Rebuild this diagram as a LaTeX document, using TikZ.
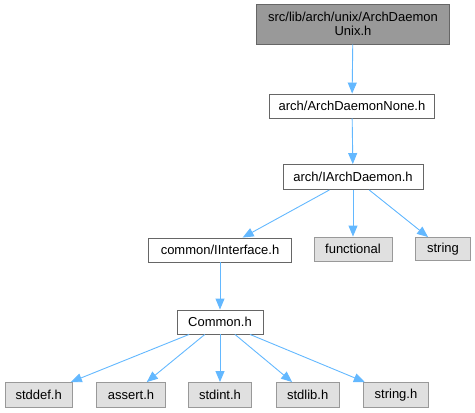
\documentclass[tikz,border=0pt]{standalone}
\usepackage{fontspec}
\setmainfont{Liberation Sans}
\usepackage{xcolor}
\usepackage{tikz}
\usetikzlibrary{arrows.meta, positioning}
\definecolor{rootfill}{HTML}{999999}
\definecolor{rootline}{HTML}{666666}
\definecolor{extfill}{HTML}{E0E0E0}
\definecolor{extline}{HTML}{999999}
\definecolor{incarrow}{HTML}{63B8FF}

\begin{document}
\begin{tikzpicture}[x=1pt, y=-1pt,
    every node/.style={font=\fontsize{13}{14}\selectfont, inner sep=0pt, minimum height=24pt},
    hdr/.style={draw=rootline, line width=0.9pt, fill=white},
    ext/.style={draw=extline, line width=0.9pt, fill=extfill},
    inc/.style={draw=incarrow, line width=0.9pt, -{Triangle[length=11pt, width=9pt]}}]
    \useasboundingbox (0,0) rectangle (475,413);

    % header files of the project
    \node[draw=rootline, line width=0.9pt, fill=rootfill, minimum width=193pt, minimum height=40pt, align=center] (unix) at (353,24) {src/lib/arch/unix/ArchDaemon\\Unix.h};
    \node[hdr, minimum width=165pt] (none) at (352,106) {arch/ArchDaemonNone.h};
    \node[hdr, minimum width=140pt, minimum height=25pt] (iarch) at (353,177) {arch/IArchDaemon.h};
    \node[hdr, minimum width=143pt] (iface) at (220,250) {common/IInterface.h};
    \node[hdr, minimum width=86pt] (common) at (220,322) {Common.h};

    % system headers
    \node[ext, minimum width=78pt] (functional) at (353,249) {functional};
    \node[ext, minimum width=55pt, minimum height=23pt] (string) at (443,249) {string};
    \node[ext, minimum width=67pt, minimum height=25pt] (stddef) at (38.7,395) {stddef.h};
    \node[ext, minimum width=69pt, minimum height=25pt] (assert) at (131,395) {assert.h};
    \node[ext, minimum width=63pt, minimum height=25pt] (stdint) at (220,395) {stdint.h};
    \node[ext, minimum width=63pt, minimum height=25pt] (stdlib) at (307.7,395) {stdlib.h};
    \node[ext, minimum width=65pt, minimum height=25pt] (stringh) at (396,395) {string.h};

    % includes
    \draw[inc] (unix) -- (none);
    \draw[inc] (none) -- (iarch);
    \draw[inc] (iarch) -- (iface);
    \draw[inc] (iarch) -- (functional);
    \draw[inc] (iarch) -- (string);
    \draw[inc] (iface) -- (common);
    \foreach \hdrname in {stddef, assert, stdint, stdlib, stringh}
        \draw[inc] (common) -- (\hdrname);
\end{tikzpicture}
\end{document}
